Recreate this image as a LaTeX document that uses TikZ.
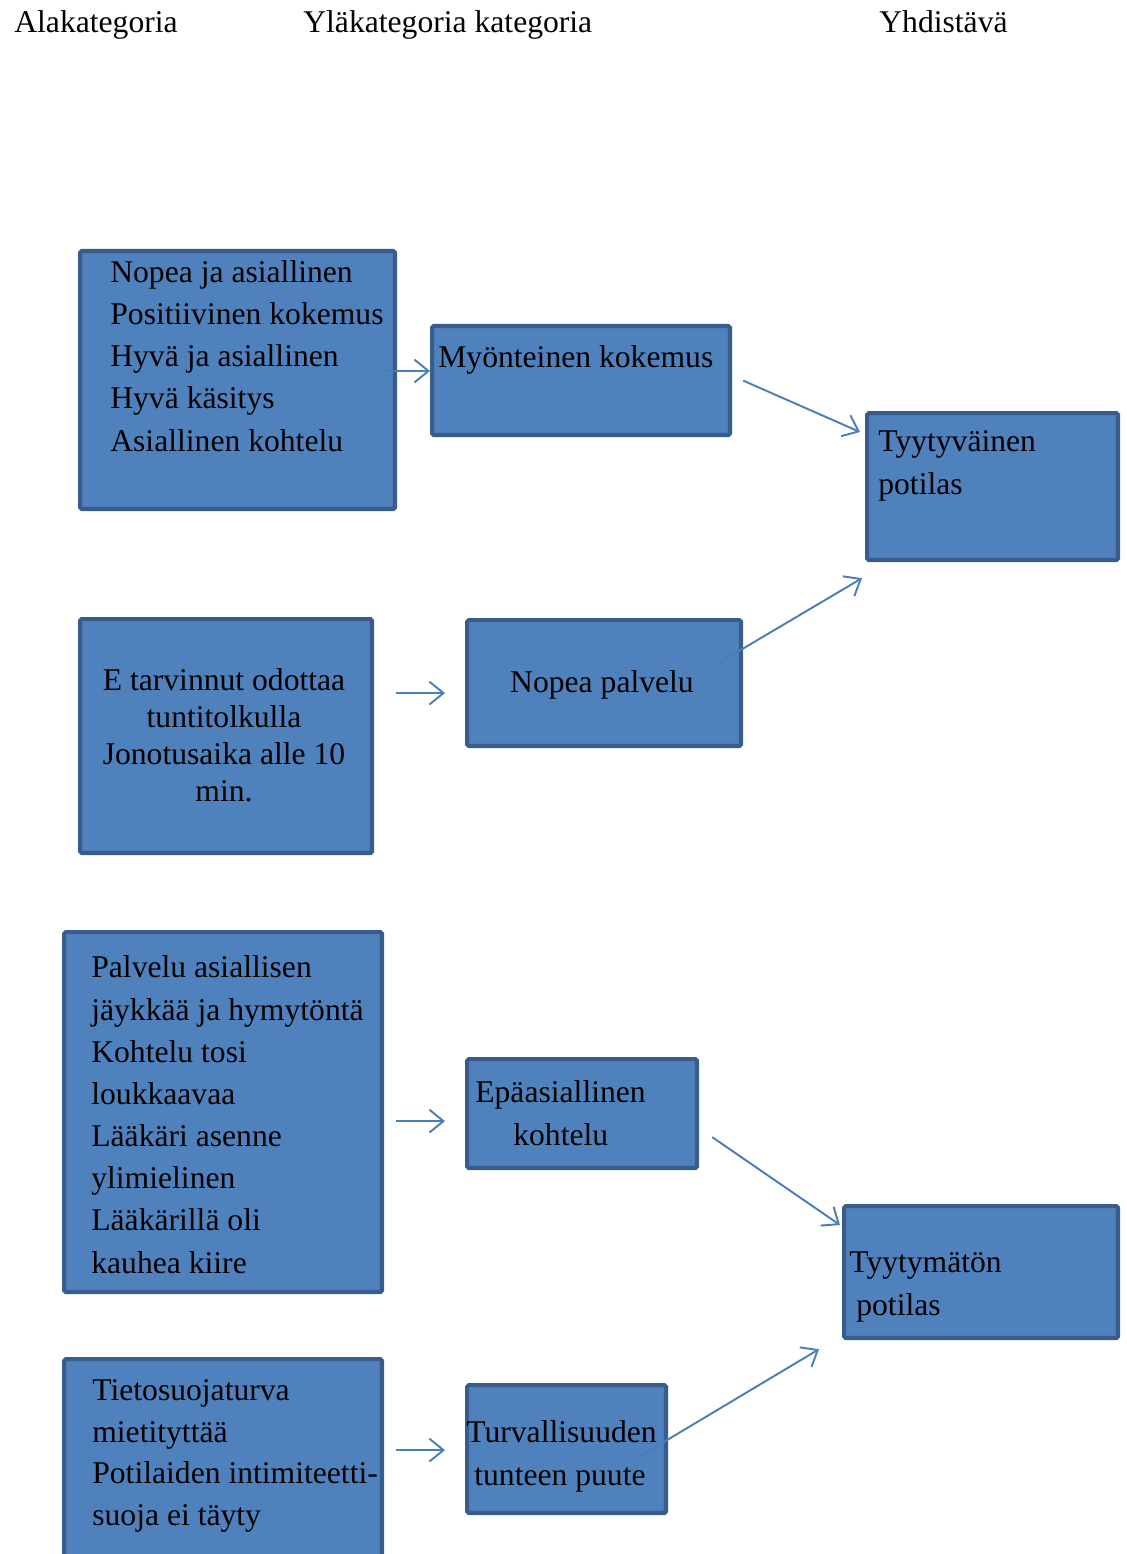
\documentclass[tikz,border=0pt]{standalone}
\usepackage{fontspec}
\setmainfont{Liberation Serif}
\usepackage{tikz}
\usetikzlibrary{arrows.meta,calc}
\definecolor{boxfill}{HTML}{4F81BD}
\definecolor{boxline}{HTML}{385D8A}
\definecolor{arrowblue}{HTML}{4A7EBB}
\tikzset{font=\fontsize{18}{24}\selectfont}
\tikzset{box/.style={draw=boxline, fill=boxfill, line width=2.4pt,
    rounded corners=1pt, anchor=north west, inner sep=0pt}}
\tikzset{txt/.style={inner sep=0pt, anchor=base west, align=left}}
\tikzset{link/.style={draw=arrowblue, line width=1.1pt,
    -{Straight Barb[length=8pt,width=13pt]}}}

\begin{document}
\begin{tikzpicture}[x=0.02cm,y=-0.02cm]
  \useasboundingbox (0,0) rectangle (1126,1554);
  \clip (0,0) rectangle (1126,1554);

  % headings
  \node[txt] (h1) at (14,33) {Alakategoria};
  \node[txt] (h2) at (303,33) {Yläkategoria kategoria};
  \node[txt] (h3) at (879,33) {Yhdistävä};

  % boxes
  \node[box, minimum width=6.30cm, minimum height=5.16cm] (a1) at (78,249) {};
  \node[box, minimum width=5.96cm, minimum height=2.18cm] (b1) at (430,324) {};
  \node[box, minimum width=5.02cm, minimum height=2.94cm] (c1) at (865,411) {};
  \node[box, minimum width=5.84cm, minimum height=4.68cm] (a2) at (78,617) {};
  \node[box, minimum width=5.48cm, minimum height=2.52cm] (b2) at (465,618) {};
  \node[box, minimum width=6.36cm, minimum height=7.20cm] (a3) at (62,930) {};
  \node[box, minimum width=4.60cm, minimum height=2.18cm] (b3) at (465,1057) {};
  \node[box, minimum width=5.48cm, minimum height=2.64cm] (c2) at (842,1204) {};
  \node[box, minimum width=6.36cm, minimum height=5.20cm] (a4) at (62,1357) {};
  \node[box, minimum width=3.98cm, minimum height=2.56cm] (b4) at (465,1383) {};

  % texts (anchored at the last baseline)
  \node[txt] (a1t) at (110,451) {Nopea ja asiallinen\\Positiivinen kokemus\\Hyvä ja asiallinen\\Hyvä käsitys\\Asiallinen kohtelu};
  \node[txt] (b1t) at (438,367) {Myönteinen kokemus};
  \node[txt, font=\fontsize{18}{24.4}\selectfont] (c1t) at (878,494) {Tyytyväinen\\potilas};
  \node[txt, anchor=base, align=center, font=\fontsize{18}{21}\selectfont] (a2t) at (224,801)
    {E tarvinnut odottaa\\tuntitolkulla\\Jonotusaika alle 10\\min.};
  \node[txt, anchor=base] (b2t) at (602,692) {Nopea palvelu};
  \node[txt] (a3t) at (91,1273) {Palvelu asiallisen\\jäykkää ja hymytöntä\\Kohtelu tosi\\loukkaavaa\\Lääkäri asenne\\ylimielinen\\Lääkärillä oli\\kauhea kiire};
  \node[txt] (b3t) at (475,1145) {Epäasiallinen\\\hspace*{0.76cm}kohtelu};
  \node[txt, font=\fontsize{18}{24.4}\selectfont] (c2t) at (849,1315) {Tyytymätön\\\hspace*{0.14cm}potilas};
  \node[txt, font=\fontsize{18}{23.6}\selectfont] (a4t) at (92,1525) {Tietosuojaturva\\mietityttää\\Potilaiden intimiteetti-\\suoja ei täyty};
  \node[txt] (b4t) at (466,1485) {Turvallisuuden\\\hspace*{0.16cm}tunteen puute};

  % arrows
  \draw[link] ($(b1.north west)+(-50,47)$) -- ($(b1.north west)+(0,47)$);
  \draw[link] ($(b1.east)+(11,0)$) -- ($(c1.north west)+(-5,21)$);
  \draw[link] ($(b2.west)+(-69,10)$) -- ($(b2.west)+(-20,10)$);
  \draw[link] ($(b2.east)+(-28,-18)$) -- ($(c1.south west)+(-3,16)$);
  \draw[link] ($(b3.west)+(-69,7.5)$) -- ($(b3.west)+(-20,7.5)$);
  \draw[link] ($(b3.east)+(13,23.5)$) -- ($(c2.north west)+(-2,21)$);
  \draw[link] ($(b4.west)+(-69,1)$) -- ($(b4.west)+(-20,1)$);
  \draw[link] ($(b4.east)+(-33,10)$) -- ($(c2.south west)+(-23,9)$);
\end{tikzpicture}
\end{document}
